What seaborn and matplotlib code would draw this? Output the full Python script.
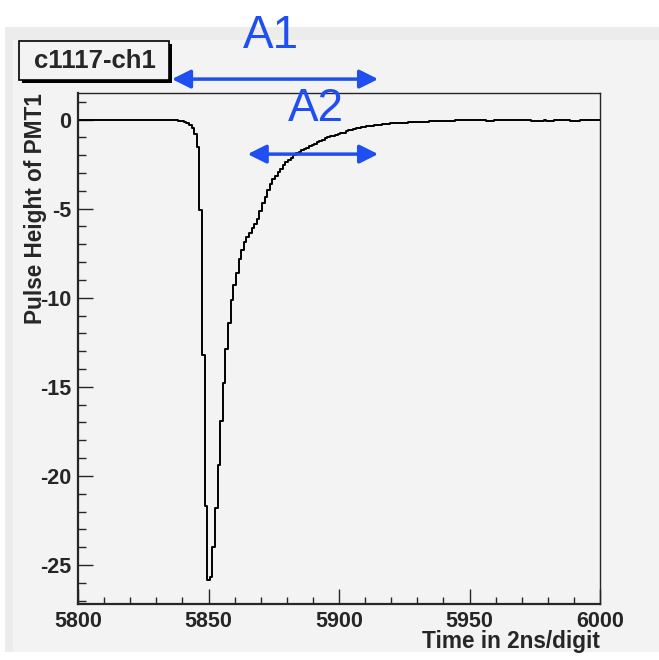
import numpy as np
import matplotlib
matplotlib.use("Agg")
import matplotlib.pyplot as plt
import seaborn as sns
from matplotlib.patches import Rectangle
from matplotlib.ticker import MultipleLocator

# Time bins (one digit = 2 ns), centres at integers 5800..6000
time = np.arange(5800, 6001)

# Pulse height, bin by bin
baseline = [0.0] * 35  # 5800-5834
pulse = [  # 5835-5887
    -0.01, -0.02, -0.03, -0.05, -0.07, -0.10, -0.14, -0.20, -0.30, -0.45,
    -0.80, -1.55, -5.10, -13.2, -21.7, -25.85, -25.65, -24.0, -21.8, -19.4,
    -16.9, -14.8, -12.9, -11.4, -10.1, -9.3, -8.6, -7.85, -7.3, -6.9,
    -6.6, -6.35, -6.1, -5.85, -5.6, -5.15, -4.7, -4.35, -3.95, -3.6,
    -3.35, -3.15, -2.95, -2.75, -2.55, -2.4, -2.25, -2.15, -2.0, -1.9,
    -1.8, -1.72, -1.65,
]
tail = [  # 5888-5956
    -1.57, -1.50, -1.42, -1.35, -1.28, -1.20, -1.12, -1.05, -1.00, -0.95,
    -0.90, -0.86, -0.82, -0.78, -0.74, -0.66, -0.60, -0.56, -0.52, -0.48,
    -0.45, -0.42, -0.40, -0.38, -0.36, -0.34, -0.32, -0.30, -0.28, -0.26,
    -0.24, -0.23, -0.22, -0.21, -0.20, -0.19, -0.19, -0.18, -0.17, -0.16,
    -0.15, -0.14, -0.13, -0.13, -0.12, -0.11, -0.11, -0.10, -0.10, -0.09,
    -0.09, -0.08, -0.08, -0.07, -0.07, -0.06, -0.06, -0.05, -0.05, -0.04,
    -0.04, -0.03, -0.03, -0.03, -0.02, -0.02, -0.02, -0.01, -0.01,
]
end = [  # 5957-6000
    -0.08, -0.09, -0.08, -0.01, 0.0, 0.0, 0.0, 0.0, 0.0, 0.0,
    0.0, 0.0, 0.0, 0.0, 0.0, 0.0, 0.0, -0.07, -0.08, -0.06,
    -0.08, -0.07, 0.0, -0.08, -0.07, -0.08, 0.0, 0.0, 0.0, 0.0,
    0.0, 0.0, -0.08, -0.07, -0.08, -0.07, 0.0, 0.0, 0.0, 0.0,
    0.0, 0.0, 0.0, 0.0,
]
height = np.array(baseline + pulse + tail + end)

x_ticks = [5800, 5850, 5900, 5950, 6000]
y_ticks = [0, -5, -10, -15, -20, -25]

sns.set_style("ticks")
plt.rcParams["font.family"] = ["Liberation Sans", "DejaVu Sans"]
plt.rcParams["axes.unicode_minus"] = False

W, H = 659, 660
fig = plt.figure(figsize=(W / 100, H / 100), dpi=100, facecolor="white")


def frect(x0, y0, x1, y1, **kw):
    # rectangle given in pixel coords (top-left origin) on the figure
    fig.patches.append(Rectangle((x0 / W, 1 - y1 / H), (x1 - x0) / W, (y1 - y0) / H,
                                 transform=fig.transFigure, figure=fig, **kw))


frect(5, 27, 659, 652, facecolor="#ececec", edgecolor="none", zorder=-10)
frect(13, 40, 659, 652, facecolor="#f3f3f3", edgecolor="none", zorder=-9)

ax = fig.add_axes([78 / W, 1 - 604 / H, 522 / W, 511 / H])
ax.set_facecolor("#f3f3f3")
ax.set_zorder(5)

sns.lineplot(x=time, y=height, ax=ax, color="black", linewidth=1.4,
             drawstyle="steps-mid", estimator=None)

ax.set_xlim(5800, 6000)
ax.set_ylim(-27.19, 1.49)
ax.set_xticks(x_ticks)
ax.set_yticks(y_ticks)
ax.xaxis.set_minor_locator(MultipleLocator(10))
ax.yaxis.set_minor_locator(MultipleLocator(1))
ax.tick_params(which="both", direction="in", top=False, right=False, width=1.0)
ax.tick_params(which="major", length=10.8, labelsize=15.5, pad=5)
ax.tick_params(which="minor", length=5.4)
for lab in ax.get_xticklabels() + ax.get_yticklabels():
    lab.set_fontweight("bold")

for side in ["left", "bottom"]:
    ax.spines[side].set_linewidth(1.6)
for side in ["top", "right"]:
    ax.spines[side].set_linewidth(1.0)
    ax.spines[side].set_visible(True)

ax.set_xlabel("Time in 2ns/digit", fontsize=16.3, fontweight="bold", loc="right")
ax.set_ylabel("Pulse Height of PMT1", fontsize=16.3, fontweight="bold", loc="top")
ax.xaxis.set_label_coords(1.0, -(630 - 604) / 511)
ax.yaxis.set_label_coords(-(78 - 47) / 522, 1.0)

# title box with shadow
frect(22, 44, 172, 83, facecolor="black", edgecolor="none", zorder=1)
frect(19, 41, 169, 80, facecolor="#f3f3f3", edgecolor="black", linewidth=1.2, zorder=2)
fig.text(95 / W, 1 - 61 / H, "c1117-ch1", fontsize=18.5, fontweight="bold",
         ha="center", va="center", zorder=3)

# blue annotations
blue = "#1f4ff0"
arrow = dict(arrowstyle="<|-|>", color=blue, lw=2.5, mutation_scale=28,
             shrinkA=0, shrinkB=0)
ax.annotate("", xy=(5915, 2.27), xytext=(5836, 2.27), arrowprops=arrow,
            annotation_clip=False)
ax.annotate("", xy=(5915, -1.94), xytext=(5865, -1.94), arrowprops=arrow,
            annotation_clip=False)
ax.text(5874, 4.7, "A1", color=blue, fontsize=33, ha="center", va="center",
        clip_on=False)
ax.text(5891, 0.6, "A2", color=blue, fontsize=33, ha="center", va="center",
        clip_on=False)

fig.savefig("out.png", dpi=100, facecolor=fig.get_facecolor())
